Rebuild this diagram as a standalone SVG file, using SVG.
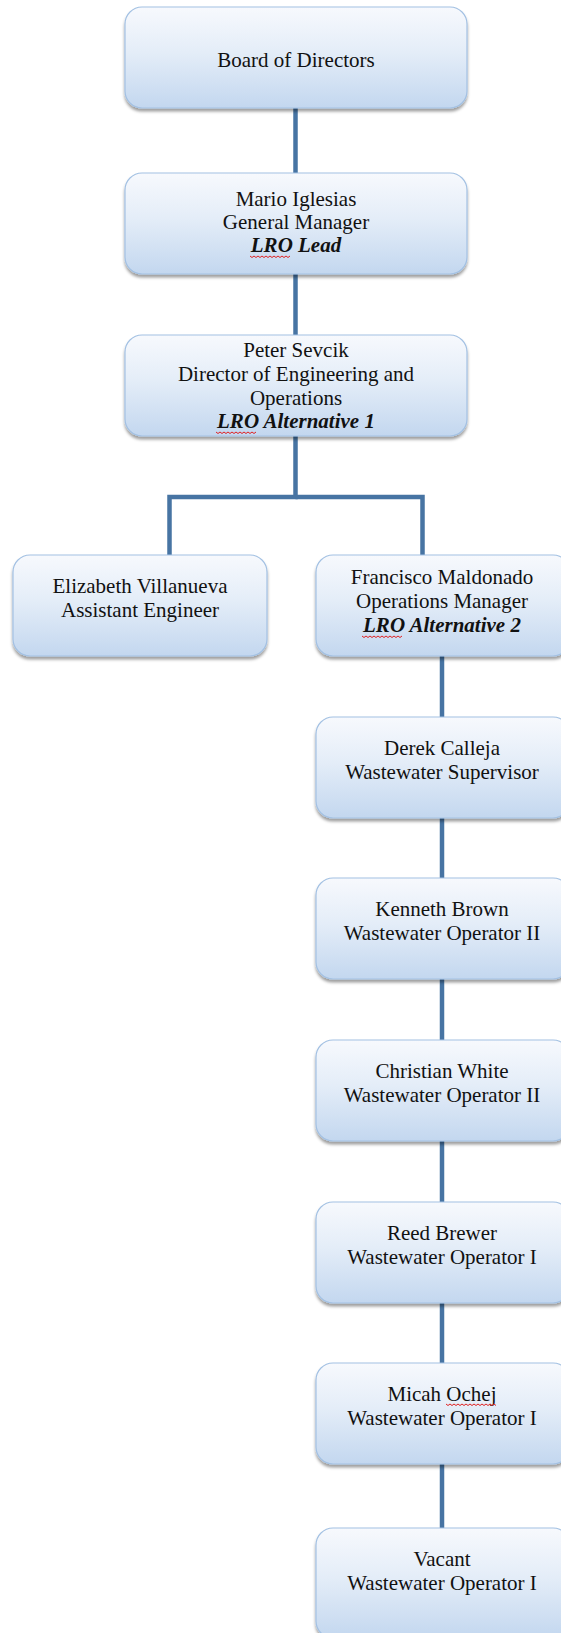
<svg xmlns="http://www.w3.org/2000/svg" width="561" height="1633" viewBox="0 0 561 1633">
<defs>
<linearGradient id="boxg" x1="0" y1="0" x2="0" y2="1">
<stop offset="0" stop-color="#f7f9fd"/>
<stop offset="0.45" stop-color="#e4edf8"/>
<stop offset="1" stop-color="#c3d7ef"/>
</linearGradient>
<filter id="sh" x="-10%" y="-10%" width="120%" height="130%">
<feDropShadow dx="0" dy="3" stdDeviation="1.8" flood-color="#000" flood-opacity="0.38"/>
</filter>
<style>
.box{fill:url(#boxg);stroke:#a3c1e3;stroke-width:1.2;filter:url(#sh)}
.t{font-family:"Liberation Serif","Times New Roman",serif;font-size:21px;fill:#111;text-anchor:middle}
.bi{font-style:italic;font-weight:bold}
.con{stroke:#4774a3;stroke-width:4.5;fill:none}
.sq{stroke:#e02020;stroke-width:1;fill:none}
</style>
</defs>
<g id="connectors">
<line class="con" x1="295.5" y1="106" x2="295.5" y2="174"/>
<line class="con" x1="295.5" y1="272" x2="295.5" y2="336"/>
<polyline class="con" points="295.5,434 295.5,497 169.5,497 169.5,556"/>
<polyline class="con" points="295.5,497 422.5,497 422.5,556"/>
<line class="con" x1="442" y1="654" x2="442" y2="718"/>
<line class="con" x1="442" y1="816" x2="442" y2="879"/>
<line class="con" x1="442" y1="977" x2="442" y2="1041"/>
<line class="con" x1="442" y1="1139" x2="442" y2="1203"/>
<line class="con" x1="442" y1="1301" x2="442" y2="1364"/>
<line class="con" x1="442" y1="1462" x2="442" y2="1529"/>
</g>
<g id="board">
<rect class="box" x="125" y="7" width="342" height="101" rx="17"/>
<text class="t" x="296" y="67">Board of Directors</text>
</g>
<g id="mario">
<rect class="box" x="125" y="173" width="342" height="101" rx="17"/>
<text class="t" x="296" y="206">Mario Iglesias</text>
<text class="t" x="296" y="229">General Manager</text>
<text class="t bi" x="296" y="252">LRO Lead</text>
<path class="sq" d="M250 256 l2 1.5 l2 -1.5 l2 1.5 l2 -1.5 l2 1.5 l2 -1.5 l2 1.5 l2 -1.5 l2 1.5 l2 -1.5 l2 1.5 l2 -1.5 l2 1.5 l2 -1.5 l2 1.5 l2 -1.5 l2 1.5 l2 -1.5 l2 1.5 l2 -1.5"/>
</g>
<g id="peter">
<rect class="box" x="125" y="335" width="342" height="101" rx="17"/>
<text class="t" x="296" y="357">Peter Sevcik</text>
<text class="t" x="296" y="381">Director of Engineering and</text>
<text class="t" x="296" y="405">Operations</text>
<text class="t bi" x="296" y="428">LRO Alternative 1</text>
<path class="sq" d="M216 432 l2 1.5 l2 -1.5 l2 1.5 l2 -1.5 l2 1.5 l2 -1.5 l2 1.5 l2 -1.5 l2 1.5 l2 -1.5 l2 1.5 l2 -1.5 l2 1.5 l2 -1.5 l2 1.5 l2 -1.5 l2 1.5 l2 -1.5 l2 1.5 l2 -1.5"/>
</g>
<g id="elizabeth">
<rect class="box" x="13" y="555" width="254" height="101" rx="17"/>
<text class="t" x="140" y="593">Elizabeth Villanueva</text>
<text class="t" x="140" y="617">Assistant Engineer</text>
</g>
<g id="francisco">
<rect class="box" x="316" y="555" width="254" height="101" rx="17"/>
<text class="t" x="442" y="584">Francisco Maldonado</text>
<text class="t" x="442" y="608">Operations Manager</text>
<text class="t bi" x="442" y="632">LRO Alternative 2</text>
<path class="sq" d="M362 636 l2 1.5 l2 -1.5 l2 1.5 l2 -1.5 l2 1.5 l2 -1.5 l2 1.5 l2 -1.5 l2 1.5 l2 -1.5 l2 1.5 l2 -1.5 l2 1.5 l2 -1.5 l2 1.5 l2 -1.5 l2 1.5 l2 -1.5 l2 1.5 l2 -1.5"/>
</g>
<g id="derek">
<rect class="box" x="316" y="717" width="254" height="101" rx="17"/>
<text class="t" x="442" y="755">Derek Calleja</text>
<text class="t" x="442" y="779">Wastewater Supervisor</text>
</g>
<g id="kenneth">
<rect class="box" x="316" y="878" width="254" height="101" rx="17"/>
<text class="t" x="442" y="916">Kenneth Brown</text>
<text class="t" x="442" y="940">Wastewater Operator II</text>
</g>
<g id="christian">
<rect class="box" x="316" y="1040" width="254" height="101" rx="17"/>
<text class="t" x="442" y="1078">Christian White</text>
<text class="t" x="442" y="1102">Wastewater Operator II</text>
</g>
<g id="reed">
<rect class="box" x="316" y="1202" width="254" height="101" rx="17"/>
<text class="t" x="442" y="1240">Reed Brewer</text>
<text class="t" x="442" y="1264">Wastewater Operator I</text>
</g>
<g id="micah">
<rect class="box" x="316" y="1363" width="254" height="101" rx="17"/>
<text class="t" x="442" y="1401">Micah Ochej</text>
<text class="t" x="442" y="1425">Wastewater Operator I</text>
<path class="sq" d="M446 1404 l2 1.5 l2 -1.5 l2 1.5 l2 -1.5 l2 1.5 l2 -1.5 l2 1.5 l2 -1.5 l2 1.5 l2 -1.5 l2 1.5 l2 -1.5 l2 1.5 l2 -1.5 l2 1.5 l2 -1.5 l2 1.5 l2 -1.5 l2 1.5 l2 -1.5 l2 1.5 l2 -1.5 l2 1.5 l2 -1.5 l2 1.5"/>
</g>
<g id="vacant">
<rect class="box" x="316" y="1528" width="254" height="110" rx="17"/>
<text class="t" x="442" y="1566">Vacant</text>
<text class="t" x="442" y="1590">Wastewater Operator I</text>
</g>
</svg>
